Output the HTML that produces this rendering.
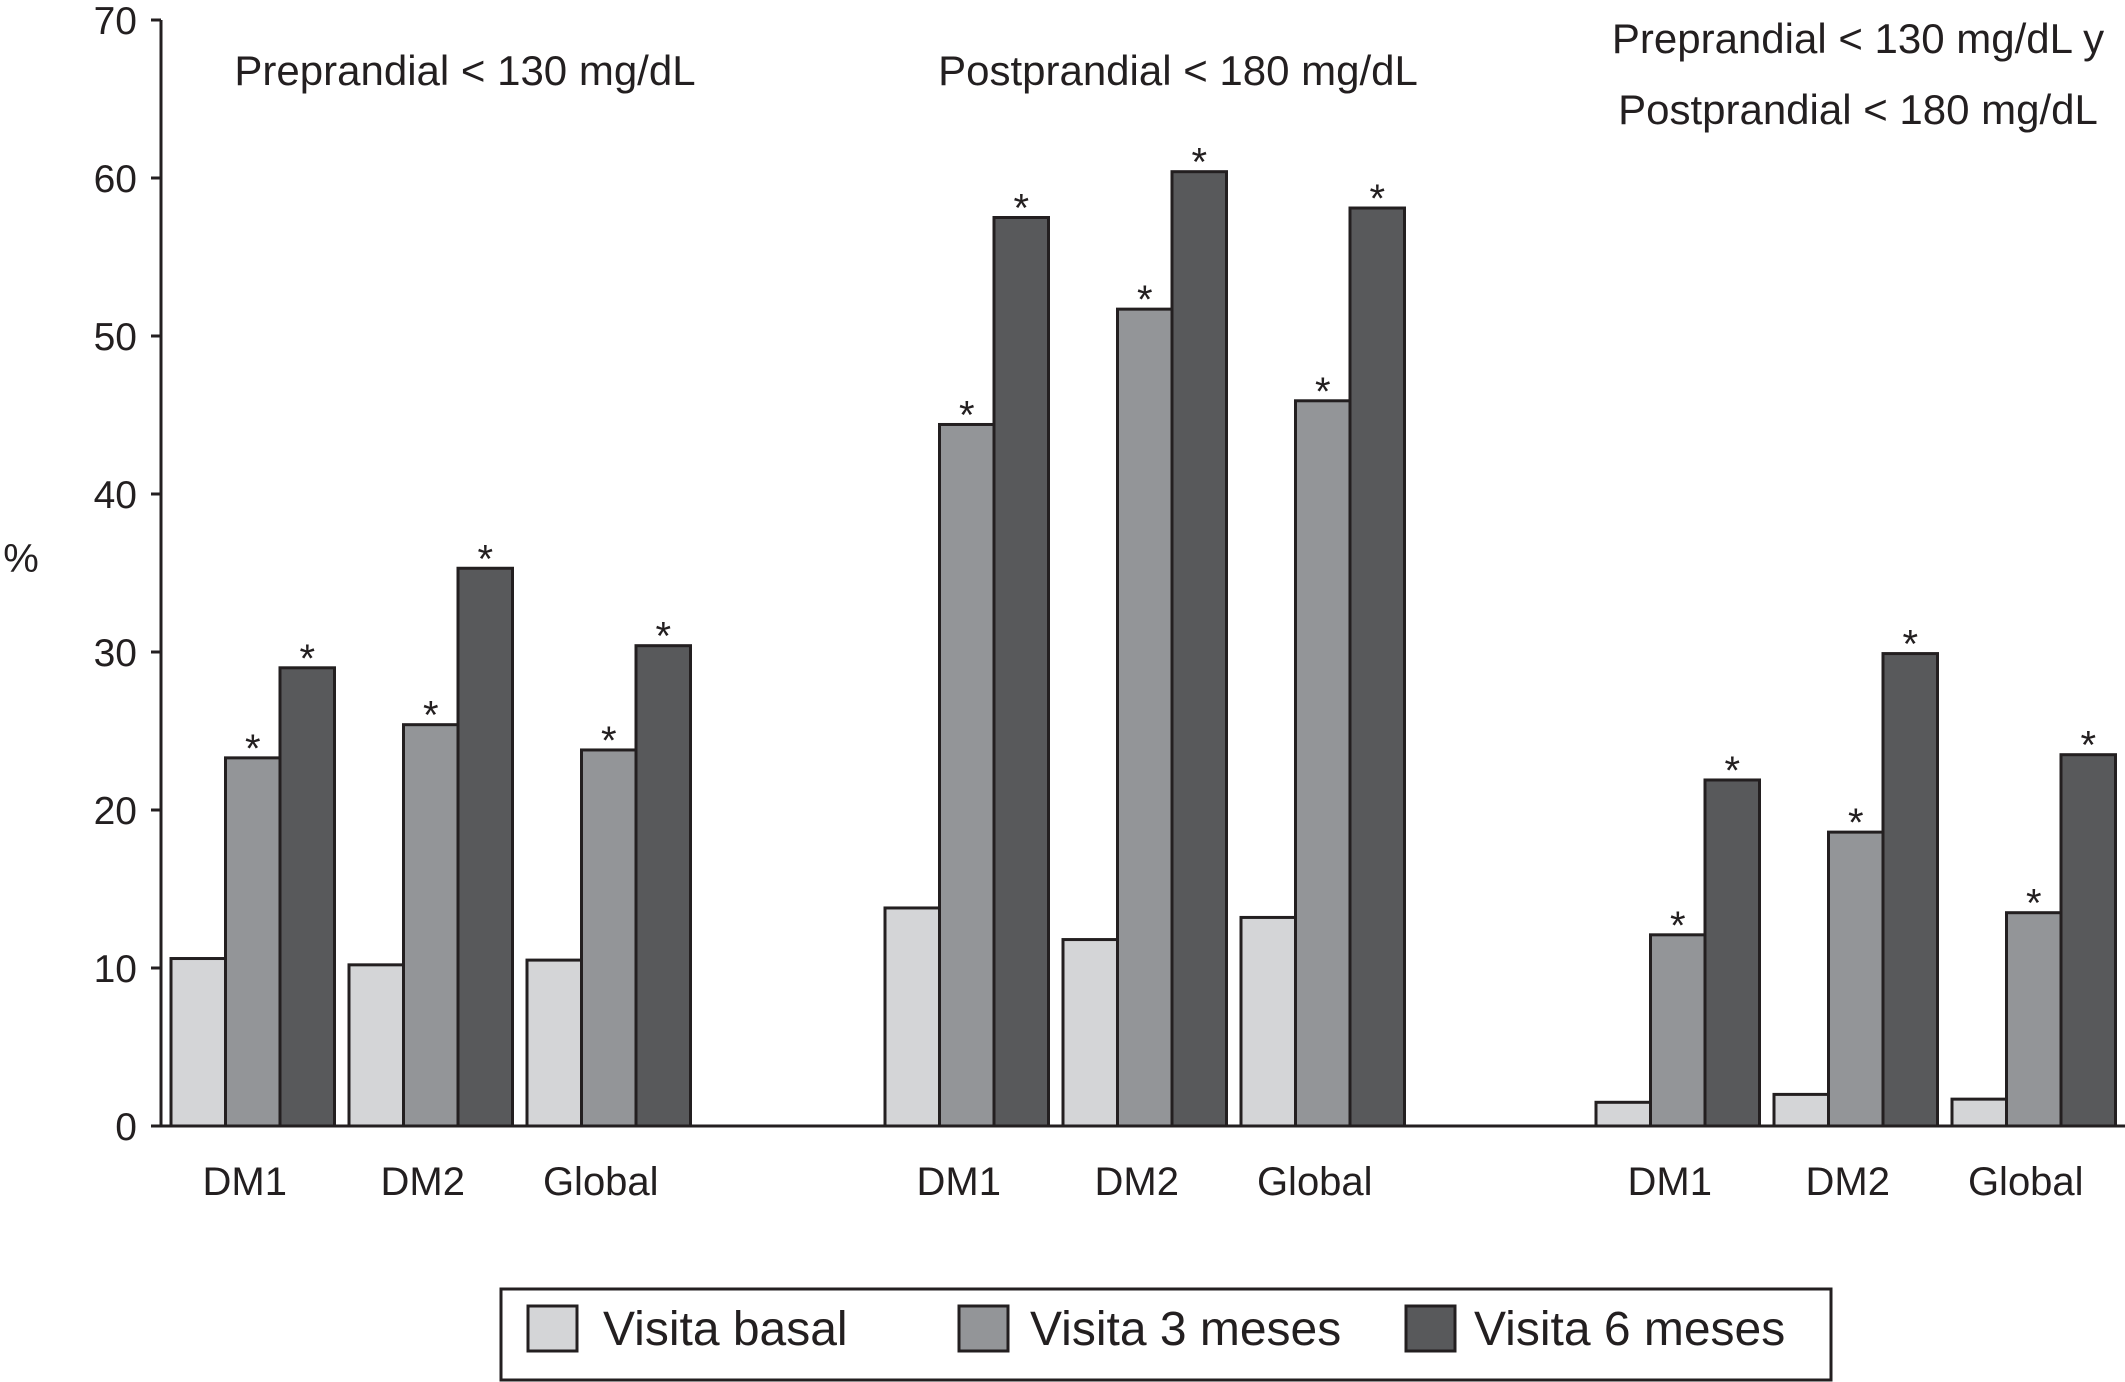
<!DOCTYPE html>
<html><head><meta charset="utf-8"><style>
html,body{margin:0;padding:0;background:#fff;}
svg{display:block;font-family:"Liberation Sans",Arial,sans-serif;}
</style></head><body>
<svg id="chart" width="2125" height="1382" viewBox="0 0 2125 1382">
<g id="axes"></g><g id="bars"></g><g id="labels"></g>
</svg>
<script>
const categories = ["DM1","DM2","Global"];
const panels = ["preprandial","postprandial","combined"];
const basal = [[10.6,10.2,10.5],[13.8,11.8,13.2],[1.5,2.0,1.7]];
const m3 = [[23.3,25.4,23.8],[44.4,51.7,45.9],[12.1,18.6,13.5]];
const m6 = [[29.0,35.3,30.4],[57.5,60.4,58.1],[21.9,29.9,23.5]];
const yTicks = [0,10,20,30,40,50,60,70];
const seriesNames = ["Visita basal","Visita 3 meses","Visita 6 meses"];

const NS="http://www.w3.org/2000/svg";
const svg=document.getElementById('chart');
const axes=document.getElementById('axes'),barsG=document.getElementById('bars'),lab=document.getElementById('labels');
const y0=1126, pxPer=15.8, axisX=161;
const y=v=>y0-v*pxPer;
const panelStart=[171,885,1596], groupStep=178, bw=54.5;
const colors=["#d4d5d7","#939598","#58595b"];
function el(tag,attrs,parent){const e=document.createElementNS(NS,tag);for(const k in attrs)e.setAttribute(k,attrs[k]);parent.appendChild(e);return e;}

let a=el('line',{x1:axisX,y1:y(70),x2:axisX,y2:y0,stroke:'#231f20','stroke-width':3},axes);


a=el('line',{x1:axisX-10,y1:y0,x2:2125,y2:y0,stroke:'#231f20','stroke-width':3},axes);


yTicks.forEach(t=>{
  const tk=el('line',{x1:axisX-10,y1:y(t),x2:axisX,y2:y(t),stroke:'#231f20','stroke-width':3},axes);
  
  
  const tx=el('text',{x:axisX-24,y:y(t)+14,'font-size':39,'text-anchor':'end',fill:'#231f20'},axes);
  tx.textContent=t;
  
  
});
let pt=el('text',{x:21,y:572,'font-size':40,'text-anchor':'middle',fill:'#231f20'},axes);
pt.textContent='%';



const series=[basal,m3,m6];
panels.forEach((p,pi)=>{
  categories.forEach((c,ci)=>{
    const gx=panelStart[pi]+ci*groupStep;
    series.forEach((s,si)=>{
      const v=s[pi][ci];
      const r=el('rect',{x:gx+si*bw,y:y(v),width:bw,height:y0-y(v),fill:colors[si],stroke:'#231f20','stroke-width':3},barsG);
      
      
      if(si>0){
        const st=el('text',{x:gx+si*bw+bw/2,y:y(v)+4,'font-size':40,'text-anchor':'middle',fill:'#231f20'},barsG);
        st.textContent='*';
        
        
      }
    });
    const cl=el('text',{x:gx+bw*1.5-8,y:1195,'font-size':40,'text-anchor':'middle',fill:'#231f20'},lab);
    cl.textContent=c;
    
    
  });
});
const titles=[["Preprandial < 130 mg/dL",465,85],["Postprandial < 180 mg/dL",1178,85],["Preprandial < 130 mg/dL y",1858,53],["Postprandial < 180 mg/dL",1858,124]];
titles.forEach(t=>{
  const e=el('text',{x:t[1],y:t[2],'font-size':42,'text-anchor':'middle',fill:'#231f20'},lab);
  e.textContent=t[0];
  
  
});
const lg=el('g',{},svg);


el('rect',{x:501,y:1289,width:1330,height:91,fill:'#fff',stroke:'#231f20','stroke-width':3},lg);
const swX=[528,959,1406], txX=[603,1030,1474];
seriesNames.forEach((n,i)=>{
  const s=el('rect',{x:swX[i],y:1306,width:49,height:45,fill:colors[i],stroke:'#231f20','stroke-width':3},lg);
  
  
  const t=el('text',{x:txX[i],y:1345,'font-size':48,fill:'#231f20'},lg);
  t.textContent=n;
  
  
});
</script>
</body></html>
